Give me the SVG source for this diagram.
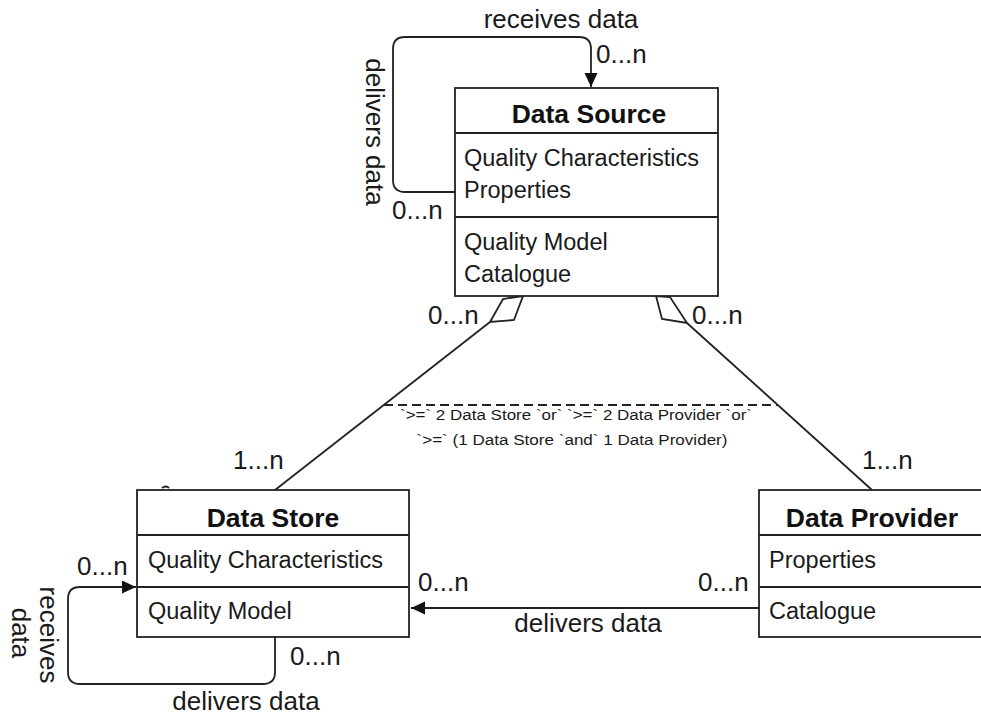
<svg xmlns="http://www.w3.org/2000/svg" width="981" height="718" viewBox="0 0 981 718">
  <style>
    .box { fill: #ffffff; stroke: #222222; stroke-width: 1.8; }
    .sep { stroke: #222222; stroke-width: 1.8; fill: none; }
    .edge { fill: none; stroke: #222222; stroke-width: 1.8; }
    .title { font-family: "Liberation Sans", Arial, sans-serif; font-weight: bold; font-size: 26.5px; fill: #111111; text-anchor: middle; }
    .attr { font-family: "Liberation Sans", Arial, sans-serif; font-size: 23.5px; fill: #1a1a1a; }
    .lbl { font-family: "Liberation Sans", Arial, sans-serif; font-size: 26px; fill: #1a1a1a; }
    .mid { text-anchor: middle; }
    .note { font-family: "Liberation Sans", Arial, sans-serif; font-size: 14px; fill: #1a1a1a; text-anchor: middle; }
  </style>
  <defs>
    <marker id="arrow" markerUnits="userSpaceOnUse" markerWidth="16" markerHeight="14" refX="14" refY="6.5" orient="auto">
      <path d="M0,0 L14,6.5 L0,13 Z" fill="#111111"/>
    </marker>
  </defs>
  <rect width="981" height="718" fill="#ffffff"/>

  <!-- connectors -->
  <g id="connectors">
    <!-- Data Source self association -->
    <path class="edge" d="M455,192 H405 Q393,192 393,180 V49 Q393,37 405,37 H579 Q591,37 591,49 V87" marker-end="url(#arrow)"/>
    <!-- aggregation Data Source - Data Store -->
    <line class="edge" x1="275" y1="490" x2="490" y2="322"/>
    <polygon class="edge" points="523,296 503,299 490,322 514,320" fill="#ffffff"/>
    <!-- aggregation Data Source - Data Provider -->
    <line class="edge" x1="872" y1="490" x2="687" y2="323"/>
    <polygon class="edge" points="656,296 670,297 687,323 662,319" fill="#ffffff"/>
    <!-- constraint across both aggregations -->
    <line class="edge" x1="384" y1="405" x2="778" y2="405" stroke-dasharray="9 5" stroke-width="1.4"/>
    <!-- Data Provider delivers to Data Store -->
    <line class="edge" x1="759" y1="608" x2="411" y2="608" marker-end="url(#arrow)"/>
    <!-- Data Store self association -->
    <path class="edge" d="M275,637 V672 Q275,684 263,684 H80 Q68,684 68,672 V599 Q68,587 80,587 H136" marker-end="url(#arrow)"/>
    <path class="edge" d="M162,488 q4,-3 7,0" stroke-width="1.2"/>
  </g>

  <!-- Data Source -->
  <g id="data-source">
    <rect class="box" x="455" y="88" width="263" height="208"/>
    <line class="sep" x1="455" y1="133" x2="718" y2="133"/>
    <line class="sep" x1="455" y1="217" x2="718" y2="217"/>
    <text class="title" x="589" y="123">Data Source</text>
    <text class="attr" x="464" y="166">Quality Characteristics</text>
    <text class="attr" x="464" y="198">Properties</text>
    <text class="attr" x="464" y="250">Quality Model</text>
    <text class="attr" x="464" y="282">Catalogue</text>
  </g>

  <!-- Data Store -->
  <g id="data-store">
    <rect class="box" x="137" y="490" width="272" height="147"/>
    <line class="sep" x1="137" y1="535" x2="409" y2="535"/>
    <line class="sep" x1="137" y1="587" x2="409" y2="587"/>
    <text class="title" x="273" y="527">Data Store</text>
    <text class="attr" x="148" y="568">Quality Characteristics</text>
    <text class="attr" x="148" y="619">Quality Model</text>
  </g>

  <!-- Data Provider -->
  <g id="data-provider">
    <rect class="box" x="759" y="490" width="240" height="147"/>
    <line class="sep" x1="759" y1="535" x2="999" y2="535"/>
    <line class="sep" x1="759" y1="587" x2="999" y2="587"/>
    <text class="title" x="872" y="527">Data Provider</text>
    <text class="attr" x="769" y="568">Properties</text>
    <text class="attr" x="769" y="619">Catalogue</text>
  </g>

  <!-- association labels and multiplicities -->
  <g id="labels">
    <text class="lbl mid" x="561" y="28">receives data</text>
    <text class="lbl" x="596" y="63">0...n</text>
    <text class="lbl mid" transform="translate(366,132) rotate(90)">delivers data</text>
    <text class="lbl" x="392" y="219">0...n</text>

    <text class="lbl" x="428" y="324">0...n</text>
    <text class="lbl" x="692" y="324">0...n</text>
    <text class="lbl" x="233" y="469">1...n</text>
    <text class="lbl" x="862" y="469">1...n</text>

    <text class="note" x="576" y="420" textLength="352" lengthAdjust="spacingAndGlyphs">`&gt;=` 2 Data Store `or` `&gt;=` 2 Data Provider `or`</text>
    <text class="note" x="572" y="445" textLength="311" lengthAdjust="spacingAndGlyphs">`&gt;=` (1 Data Store `and` 1 Data Provider)</text>

    <text class="lbl" x="418" y="591">0...n</text>
    <text class="lbl" x="698" y="591">0...n</text>
    <text class="lbl mid" x="588" y="632">delivers data</text>

    <text class="lbl" x="77" y="575">0...n</text>
    <text class="lbl mid" transform="translate(40,635) rotate(90)">receives</text>
    <text class="lbl mid" transform="translate(12,633) rotate(90)">data</text>
    <text class="lbl" x="290" y="665">0...n</text>
    <text class="lbl mid" x="246" y="710">delivers data</text>
  </g>
</svg>
